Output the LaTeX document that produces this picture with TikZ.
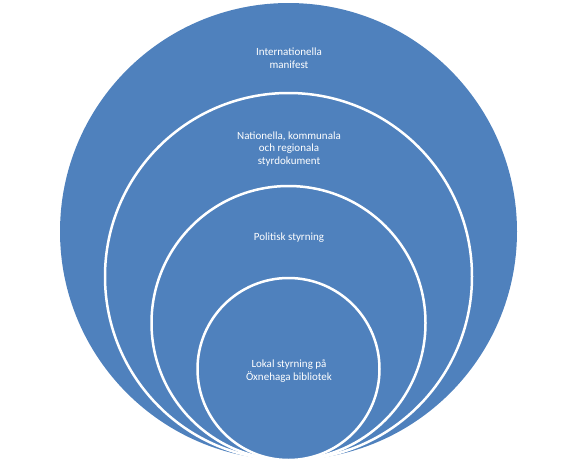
\documentclass[tikz,border=0pt]{standalone}
\usepackage{fontspec}
\setmainfont{Carlito}
\definecolor{ringblue}{HTML}{4F81BD}
\tikzset{
  ring/.style={circle, fill=ringblue, draw=white, line width=2.5pt, inner sep=0pt},
  lbl/.style={text=white, align=center, font=\fontsize{11}{12.5}\selectfont}
}
\begin{document}
\begin{tikzpicture}[x=1pt,y=-1pt]
\useasboundingbox (0,0) rectangle (576,464);
\node[ring, draw=none, minimum size=457pt] (c1) at (288.5,231.5) {};
\node[ring, minimum size=367pt] (c2) at (288.5,276.5) {};
\node[ring, minimum size=274pt] (c3) at (288.5,323) {};
\node[ring, minimum size=182pt] (c4) at (288.5,369) {};
\node[lbl] (t1) at (289,58) {Internationella\\manifest};
\node[lbl] (t2) at (289,149) {Nationella, kommunala\\och regionala\\styrdokument};
\node[lbl] (t3) at (289,238) {Politisk styrning};
\node[lbl] (t4) at (289,371) {Lokal styrning på\\Öxnehaga bibliotek};
\end{tikzpicture}
\end{document}
